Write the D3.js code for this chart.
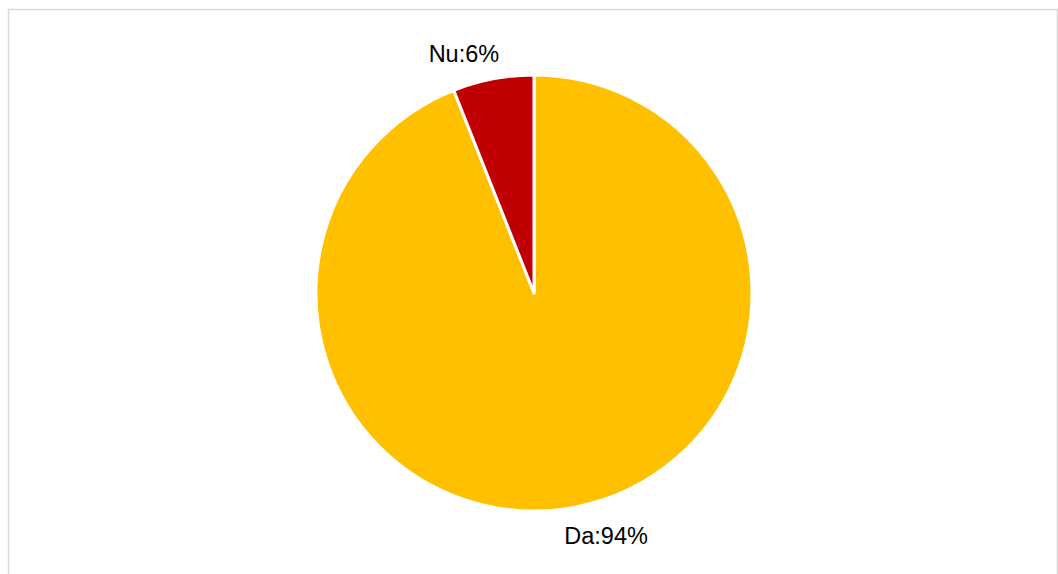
<!DOCTYPE html>
<html>
<head>
<meta charset="utf-8">
<script src="https://cdn.jsdelivr.net/npm/d3@7"></script>
<style>
  body { margin: 0; background: #fff; }
  svg text { font-family: "Liberation Sans", Arial, sans-serif; fill: #000; }
</style>
</head>
<body>
<div id="chart"></div>
<script>
const categories = ["Da", "Nu"];
const values = [94, 6];
const colors = ["#FFC000", "#C00000"];

const width = 1058, height = 574;
const cx = 534, cy = 293, radius = 218;

const svg = d3.select('#chart').append('svg')
    .attr('width', width)
    .attr('height', height);

// chart frame
svg.append('rect')
    .attr('x', 8.5)
    .attr('y', 9.5)
    .attr('width', 1049)
    .attr('height', 600)
    .attr('fill', '#fff')
    .attr('stroke', '#d9d9d9')
    .attr('stroke-width', 1.5);

const data = categories.map((c, i) => ({ name: c, value: values[i], color: colors[i] }));

const pie = d3.pie().value(d => d.value).sort(null);
const arc = d3.arc().innerRadius(0).outerRadius(radius);
const labelArc = d3.arc().innerRadius(246).outerRadius(246);

const g = svg.append('g').attr('transform', `translate(${cx},${cy})`);
const arcs = pie(data);

g.selectAll('path')
    .data(arcs)
    .enter().append('path')
    .attr('d', arc)
    .attr('fill', d => d.data.color)
    .attr('stroke', '#fff')
    .attr('stroke-width', 3)
    .attr('stroke-linejoin', 'round');

// labels outside the pie
g.selectAll('.label')
    .data(arcs)
    .enter().append('text')
    .attr('class', 'label')
    .attr('x', d => {
        const c = labelArc.centroid(d);
        const mid = (d.startAngle + d.endAngle) / 2;
        return c[0] + (mid > Math.PI ? -24 : 26);
    })
    .attr('y', d => {
        const mid = (d.startAngle + d.endAngle) / 2;
        return labelArc.centroid(d)[1] + (mid > Math.PI ? 2 : 1);
    })
    .attr('dy', '.35em')
    .attr('text-anchor', 'middle')
    .style('font-size', '23.5px')
    .text(d => `${d.data.name}:${d.data.value}%`);
</script>
</body>
</html>
